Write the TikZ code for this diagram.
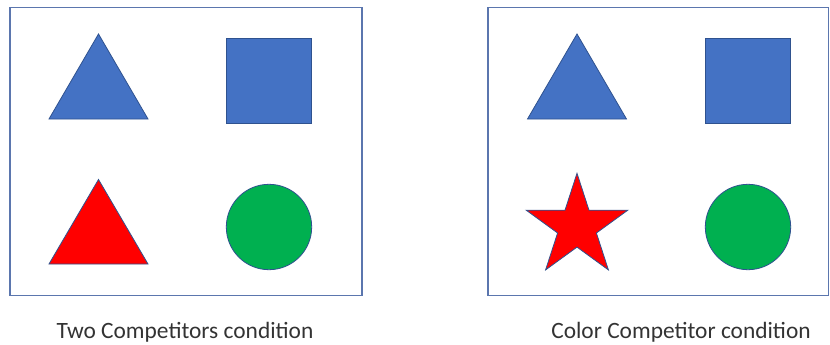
\documentclass[tikz,border=0pt]{standalone}
\usepackage{fontspec}
\setmainfont{Carlito}
\definecolor{fillblue}{HTML}{4472C4}
\definecolor{edgeblue}{HTML}{2F528F}
\definecolor{framecol}{HTML}{5B76AE}
\definecolor{shred}{HTML}{FF0000}
\definecolor{shgreen}{HTML}{00B050}
\begin{document}
\begin{tikzpicture}[x=1pt,y=-1pt,
  frame/.style={draw=framecol,line width=1.1pt},
  shp/.style={draw=edgeblue,line width=0.8pt,line join=miter},
  caption/.style={font=\fontsize{23.4}{26}\selectfont,text=black!80,inner sep=0pt,anchor=base}]
\useasboundingbox (0,0) rectangle (830,345);
% left panel
\draw[frame] (10,7.5) rectangle (362,295.5);
\draw[shp,fill=fillblue] (98.5,34) -- (148,119) -- (49,119) -- cycle;
\draw[shp,fill=fillblue] (226.5,38) rectangle (311.5,123.5);
\draw[shp,fill=shred] (98.5,179.5) -- (148,264) -- (49,264) -- cycle;
\draw[shp,fill=shgreen] (269,227) circle[radius=42.7];
% right panel
\draw[frame] (488,7.5) -- (828.5,7.5) -- (828.5,295.5) -- (488,295.5) -- cycle;
\draw[shp,fill=fillblue] (577,34) -- (626.5,119) -- (527.5,119) -- cycle;
\draw[shp,fill=fillblue] (705,38) rectangle (790.5,123.5);
\draw[shp,fill=shred] (577,226.7)
  +(90:-53.4) -- +(126:-20.4) -- +(162:-53.4) -- +(198:-20.4) -- +(234:-53.4)
  -- +(270:-20.4) -- +(306:-53.4) -- +(342:-20.4) -- +(18:-53.4) -- +(54:-20.4) -- cycle;
\draw[shp,fill=shgreen] (748,227) circle[radius=42.7];
% captions
\node[caption] (capL) at (185,338) {Two Competitors condition};
\node[caption] (capR) at (681,338) {Color Competitor condition};
\end{tikzpicture}
\end{document}
